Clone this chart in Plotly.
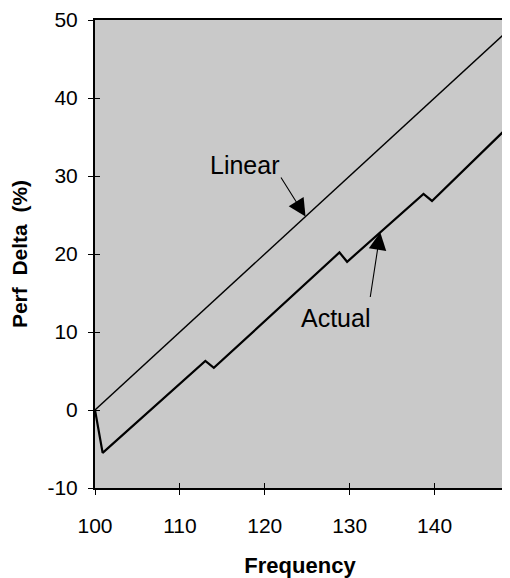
import plotly.graph_objects as go

# Data
linear_freq = [100, 148.3]
linear_delta = [0, 48.3]

actual_freq = [100, 100.9, 113.0, 114.0, 128.8, 129.7, 138.7, 139.7, 148.3]
actual_delta = [0, -5.5, 6.3, 5.4, 20.2, 19.0, 27.7, 26.8, 35.9]

x_ticks = [100, 110, 120, 130, 140]
x_tick_labels = ["100", "110", "120", "130", "140"]
y_ticks = [-10, 0, 10, 20, 30, 40, 50]
y_tick_labels = ["-10", "0", "10", "20", "30", "40", "50"]

FONT = "Liberation Sans, Arial, Helvetica, sans-serif"

fig = go.Figure()
fig.add_trace(go.Scatter(x=linear_freq, y=linear_delta, mode="lines",
                         line=dict(color="black", width=1.4),
                         showlegend=False, hoverinfo="skip"))
fig.add_trace(go.Scatter(x=actual_freq, y=actual_delta, mode="lines",
                         line=dict(color="black", width=2.2),
                         showlegend=False, hoverinfo="skip"))

# invisible trace on overlaid axes to draw inward half of the "cross" ticks
fig.add_trace(go.Scatter(x=linear_freq, y=linear_delta, xaxis="x2", yaxis="y2",
                         mode="lines", line=dict(width=0), opacity=0,
                         showlegend=False, hoverinfo="skip"))

# page body adds an 8px margin, so the figure is sized to fit 510x578
fig.update_layout(
    width=502, height=570,
    margin=dict(l=87, r=5, t=12, b=90),
    paper_bgcolor="white",
    plot_bgcolor="#c9c9c9",
    font=dict(family=FONT, color="black", size=21),
    xaxis=dict(range=[100, 148.3], tickvals=x_ticks, ticktext=x_tick_labels,
               ticks="outside", ticklen=5, automargin=False, ticklabeloverflow="allow",
               tickwidth=1, tickcolor="black", showgrid=False, zeroline=False,
               showline=True, linecolor="black", linewidth=2, mirror=True,
               tickfont=dict(size=21, family=FONT), ticklabelstandoff=13,
               title=dict(text="<b>Frequency</b>", font=dict(size=22, family=FONT),
                          standoff=21)),
    yaxis=dict(range=[-10, 50], tickvals=y_ticks, ticktext=y_tick_labels,
               ticks="outside", ticklen=5, automargin=False, ticklabeloverflow="allow",
               tickwidth=1, tickcolor="black", showgrid=False, zeroline=False,
               showline=True, linecolor="black", linewidth=2, mirror=True,
               tickfont=dict(size=21, family=FONT), ticklabelstandoff=6,
               title=dict(text="<b>Perf  Delta  (%)</b>", font=dict(size=21, family=FONT),
                          standoff=20)),
    xaxis2=dict(overlaying="x", matches="x", range=[100, 148.3], tickvals=x_ticks,
                ticks="inside", ticklen=5, tickwidth=1, tickcolor="black",
                showticklabels=False, showgrid=False, zeroline=False, showline=False,
                side="bottom"),
    yaxis2=dict(overlaying="y", matches="y", range=[-10, 50], tickvals=y_ticks,
                ticks="inside", ticklen=5, tickwidth=1, tickcolor="black",
                showticklabels=False, showgrid=False, zeroline=False, showline=False,
                side="left"),
)

ann_font = dict(family=FONT, size=25, color="black")
fig.add_annotation(x=117.7, y=31.4, text="Linear", showarrow=False, font=ann_font)
fig.add_annotation(x=124.8, y=24.8, ax=121.8, ay=30.0, axref="x", ayref="y",
                   text="", showarrow=True, arrowhead=2, arrowsize=3.2,
                   arrowwidth=1.1, arrowcolor="black")
fig.add_annotation(x=128.3, y=11.8, text="Actual", showarrow=False, font=ann_font)
fig.add_annotation(x=133.6, y=22.8, ax=132.4, ay=14.3, axref="x", ayref="y",
                   text="", showarrow=True, arrowhead=2, arrowsize=3.2,
                   arrowwidth=1.1, arrowcolor="black")

fig.write_html("out.html")
